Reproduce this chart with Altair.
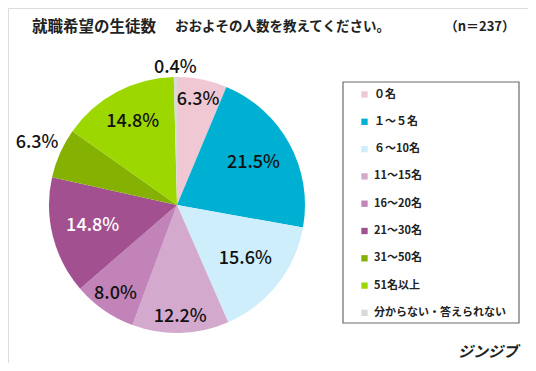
import altair as alt
import pandas as pd

categories = ["０名", "１～５名", "６～10名", "11～15名", "16～20名",
              "21～30名", "31～50名", "51名以上", "分からない・答えられない"]
values = [6.3, 21.5, 15.6, 12.2, 8.0, 14.8, 6.3, 14.8, 0.4]
colors = ["#EFC8D4", "#00B0D2", "#CDEEFA", "#D4A9CE", "#C283B9",
          "#A35091", "#84B102", "#9DD700", "#D9D9D9"]

title_main = "就職希望の生徒数"
title_sub = "おおよその人数を教えてください。"
title_n = "（n＝237）"
brand = "ジンジブ"

FONT = "Noto Sans CJK JP"

df = pd.DataFrame({"cat": categories, "v": values, "idx": list(range(len(values)))})
total = float(sum(values))

CX, CY, R = 169, 197, 128

color_enc = alt.Color(
    "cat:N",
    sort=categories,
    scale=alt.Scale(domain=categories, range=colors),
    legend=alt.Legend(
        title=None, orient="none", legendX=351, legendY=81, padding=0,
        symbolType="square", symbolSize=40, symbolStrokeWidth=0,
        labelFont=FONT, labelFontSize=11, labelFontWeight="bold",
        labelColor="#222", rowPadding=15.3, labelOffset=4, labelLimit=300,
    ),
)

theta_scale = alt.Scale(domain=[0, total], range=[0, 6.283185307179586])

arcs = alt.Chart(df).mark_arc(outerRadius=R).encode(
    theta=alt.Theta("v:Q", stack=True, scale=theta_scale),
    order=alt.Order("idx:Q"),
    color=color_enc,
    x=alt.value(CX), y=alt.value(CY),
)

radius_expr = (
    "datum.cat == '31～50名' ? 153 : datum.cat == '分からない・答えられない' ? 137 : "
    "datum.cat == '11～15名' ? 112 : datum.cat == '16～20名' ? 108 : "
    "datum.cat == '０名' ? 107 : datum.cat == '51名以上' ? 94 : 87"
)

labels = alt.Chart(df).transform_window(
    cum="sum(v)", sort=[alt.SortField("idx")], frame=[None, 0]
).transform_calculate(
    mid="datum.cum - datum.v / 2",
    lbl="format(datum.v, '.1f') + '%'",
    lr=radius_expr,
).mark_text(font=FONT, fontSize=18, fontWeight=500).encode(
    theta=alt.Theta("mid:Q", stack=None, scale=theta_scale),
    radius=alt.Radius("lr:Q", scale=None),
    text="lbl:N",
    color=alt.condition(alt.datum.cat == "21～30名", alt.value("white"), alt.value("#111")),
    x=alt.value(CX), y=alt.value(CY),
)

box = alt.Chart(pd.DataFrame({"a": [0]})).mark_rect(
    fill="white", stroke="#6b6b6b", strokeWidth=1.2
).encode(x=alt.value(335), x2=alt.value(511), y=alt.value(74), y2=alt.value(315))

def txt(s, x, y, size, weight="bold", align="left", italic=False):
    return alt.Chart(pd.DataFrame({"t": [s]})).mark_text(
        font=FONT, fontSize=size, fontWeight=weight, align=align, baseline="middle",
        color="#222", fontStyle="italic" if italic else "normal",
    ).encode(x=alt.value(x), y=alt.value(y), text="t:N")

t1 = txt(title_main, 24, 19, 15.5)
t2 = txt(title_sub, 167, 19, 13.5)
t3 = txt(title_n, 507, 19, 13, align="right")
t4 = txt(brand, 510, 344, 15, align="right", italic=True)

chart = alt.layer(box, arcs, labels, t1, t2, t3, t4).properties(
    width=520, height=355, padding=0,
    autosize=alt.AutoSizeParams(type="none"),
).configure_view(stroke=None).configure(background="white")

chart.save("out.html", embed_options={"renderer": "svg", "actions": False})
